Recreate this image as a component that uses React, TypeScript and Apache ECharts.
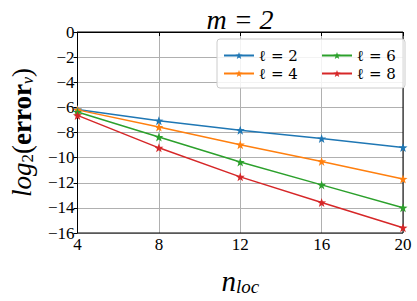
import React, { useEffect, useRef } from "react";
import * as echarts from "echarts";

const xValues = [4, 8, 12, 16, 20];
const seriesNames = ["ℓ = 2", "ℓ = 4", "ℓ = 6", "ℓ = 8"];
const l2 = [-6.17, -7.06, -7.82, -8.48, -9.19];
const l4 = [-6.2, -7.57, -8.97, -10.3, -11.7];
const l6 = [-6.37, -8.36, -10.35, -12.17, -13.99];
const l8 = [-6.64, -9.22, -11.53, -13.57, -15.58];
const colors = ["#1f77b4", "#ff7f0e", "#2ca02c", "#d62728"];

const STAR =
  "path://M0,-10 L2.35,-3.24 9.51,-3.09 3.8,1.24 5.88,8.09 0,4 -5.88,8.09 -3.8,1.24 -9.51,-3.09 -2.35,-3.24Z";

const FONT = "'Liberation Serif', 'DejaVu Serif', serif";
const SYMF = "'DejaVu Serif', serif";

export default function App() {
  const ref = useRef<HTMLDivElement>(null);
  useEffect(() => {
    if (!ref.current) return;
    const chart = echarts.init(ref.current, null, { renderer: "svg" });
    const all = [l2, l4, l6, l8];
    const series = all.map((vals, i) => ({
      name: seriesNames[i],
      type: "line",
      data: xValues.map((x, j) => [x, vals[j]]),
      symbol: STAR,
      symbolSize: 9,
      showSymbol: true,
      lineStyle: { width: 1.5, color: colors[i] },
      itemStyle: { color: colors[i] },
      z: 3,
    }));
    const legendCommon = {
      orient: "vertical",
      itemWidth: 30,
      itemHeight: 9,
      itemGap: 3,
      textStyle: { fontFamily: SYMF, fontSize: 15, color: "#000", fontWeight: "normal" },
      z: 10,
    };
    const norm = { fontWeight: "normal", color: "#000" };
    chart.setOption({
      animation: false,
      backgroundColor: "#fff",
      textStyle: { fontFamily: FONT },
      title: {
        text: "m = 2",
        left: 235,
        textAlign: "center",
        top: 0,
        textStyle: {
          fontFamily: FONT,
          fontSize: 28,
          fontWeight: "normal",
          fontStyle: "italic",
          color: "#000",
        },
      },
      grid: {
        left: 68,
        top: 32,
        right: 14,
        bottom: 52,
        show: true,
        borderColor: "#000",
        borderWidth: 1,
        backgroundColor: "transparent",
        z: 2,
      },
      graphic: [
        {
          type: "rect",
          z: 5,
          shape: { x: 217, y: 39, width: 188, height: 49, r: 3 },
          style: { fill: "rgba(255,255,255,0.85)", stroke: "#cccccc", lineWidth: 1 },
        },
      ],
      legend: [
        {
          ...legendCommon,
          left: 218,
          top: 43,
          data: [seriesNames[0], seriesNames[1]],
        },
        {
          ...legendCommon,
          left: 316,
          top: 43,
          data: [seriesNames[2], seriesNames[3]],
        },
      ],
      xAxis: {
        type: "value",
        min: 4,
        max: 20,
        interval: 4,
        name: "{n|n}{s|loc}",
        nameLocation: "middle",
        nameGap: 32,
        nameTextStyle: {
          fontWeight: "normal",
          rich: {
            n: { ...norm, fontFamily: FONT, fontStyle: "italic", fontSize: 29 },
            s: {
              ...norm,
              fontFamily: FONT,
              fontStyle: "italic",
              fontSize: 19,
              padding: [12, 0, 0, 0],
            },
          },
        },
        axisLine: { show: true, lineStyle: { color: "#000", width: 1 } },
        axisTick: { show: true, inside: false, length: 4, lineStyle: { color: "#000" } },
        axisLabel: {
          fontFamily: FONT,
          fontSize: 17,
          color: "#000",
          margin: 3,
        },
        splitLine: { show: true, lineStyle: { color: "#b0b0b0", width: 1 } },
      },
      yAxis: {
        type: "value",
        min: -16,
        max: 0,
        interval: 2,
        name: "{i|log}{s|2}{p|(}{b|error}{v|v}{p|)}",
        nameLocation: "middle",
        nameGap: 42,
        nameRotate: 90,
        nameTextStyle: {
          fontWeight: "normal",
          rich: {
            i: { ...norm, fontFamily: FONT, fontStyle: "italic", fontSize: 27 },
            s: { ...norm, fontFamily: FONT, fontSize: 17, padding: [11, 0, 0, 0] },
            p: { ...norm, fontFamily: FONT, fontSize: 27 },
            b: { fontFamily: FONT, fontWeight: "bold", fontSize: 27, color: "#000" },
            v: { ...norm, fontFamily: FONT, fontStyle: "italic", fontSize: 16, padding: [11, 0, 0, 0] },
          },
        },
        axisLine: { show: true, lineStyle: { color: "#000", width: 1 } },
        axisTick: { show: true, inside: false, length: 4, lineStyle: { color: "#000" } },
        axisLabel: {
          fontFamily: FONT,
          fontSize: 17,
          color: "#000",
          margin: 3,
          formatter: (v: number) => String(v).replace("-", "−"),
        },
        splitLine: { show: true, lineStyle: { color: "#b0b0b0", width: 1 } },
      },
      series,
    });
    return () => chart.dispose();
  }, []);
  return (
    <div
      ref={ref}
      style={{ position: "fixed", left: 0, top: 0, width: 417, height: 301 }}
    />
  );
}
